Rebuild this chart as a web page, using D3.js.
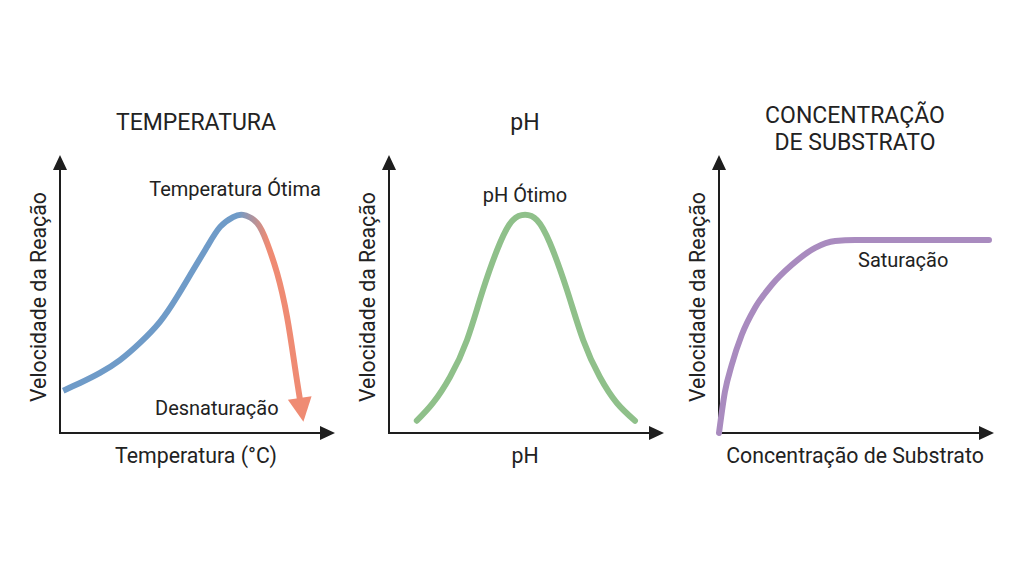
<!DOCTYPE html>
<html><head><meta charset="utf-8">
<script src="https://cdn.jsdelivr.net/npm/d3@7"></script>
<style>
html,body{margin:0;padding:0;background:#fff;}
text{font-family:Roboto,"Noto Sans",sans-serif;fill:#222;}
</style></head>
<body>
<svg id="c" width="1024" height="572"></svg>
<script>
// ---- data (arbitrary units 0..100) ----
const tempX = [1.2, 7.4, 14.8, 22.2, 29.6, 37.0, 43.3, 49.3, 54.4, 59.3, 64.1, 67.8, 73.0, 76.7, 80.4, 84.1, 87.0, 88.9];
const tempY = [15.5, 18.3, 22.0, 26.7, 33.0, 40.7, 49.8, 59.7, 68.1, 75.5, 79.1, 79.9, 76.9, 69.6, 58.6, 42.5, 24.2, 12.1];
const phX = [10.3, 16.3, 22.6, 28.9, 34.8, 41.1, 45.9, 50.4, 54.8, 59.6, 65.9, 71.9, 78.1, 84.4, 91.1];
const phY = [4.5, 11.0, 20.5, 34.1, 52.4, 69.6, 78.0, 79.9, 78.0, 69.6, 52.4, 34.1, 20.5, 11.0, 4.5];
const subX = [0, 2.2, 4.7, 8.4, 13.3, 19.5, 26.9, 35.6, 43.0, 50.4, 100];
const subY = [0, 15.1, 24.9, 35.9, 45.8, 54.2, 61.5, 67.8, 70.3, 70.7, 70.7];

const titles = [["TEMPERATURA"], ["pH"], ["CONCENTRAÇÃO", "DE SUBSTRATO"]];
const xLabels = ["Temperatura (°C)", "pH", "Concentração de Substrato"];
const yLabel = "Velocidade da Reação";
const annotations = ["Temperatura Ótima", "pH Ótimo", "Saturação"];
const colors = ["#6f9bc8", "#8fc08a", "#a98bbf"];
const denatColor = "#ef8b73";

const svg = d3.select("#c");
const defs = svg.append("defs");

const panels = [
  {ax: 60, ay: 433, xs: tempX, ys: tempY, curve: d3.curveNatural,
   titleY: [130], ann: {x: 235, y: 196}},
  {ax: 389, ay: 433, xs: phX, ys: phY, curve: d3.curveNatural,
   titleY: [130], ann: {x: 525, y: 202}},
  {ax: 719, ay: 433, xs: subX, ys: subY, curve: d3.curveMonotoneX,
   titleY: [123, 150], ann: {x: 858, y: 267, anchor: "start"}}
];

function arrowHead(g, tipX, tipY, dir, size, w, fill) {
  const bx = tipX - dir[0]*size, by = tipY - dir[1]*size;
  const px = -dir[1], py = dir[0];
  g.append("path")
    .attr("d", `M${tipX},${tipY}L${bx+px*w/2},${by+py*w/2}L${bx-px*w/2},${by-py*w/2}Z`)
    .attr("fill", fill);
}

panels.forEach((p, i) => {
  const g = svg.append("g");
  const x = d3.scaleLinear().domain([0, 100]).range([p.ax, p.ax + 270]);
  const y = d3.scaleLinear().domain([0, 100]).range([p.ay, p.ay - 273]);
  const cx = p.ax + 136;

  // axes
  g.append("line").attr("x1", p.ax).attr("y1", p.ay).attr("x2", p.ax).attr("y2", 165)
    .attr("stroke", "#1e1e1e").attr("stroke-width", 2);
  g.append("line").attr("x1", p.ax - 1).attr("y1", p.ay).attr("x2", p.ax + 265).attr("y2", p.ay)
    .attr("stroke", "#1e1e1e").attr("stroke-width", 2);
  arrowHead(g, p.ax, 155, [0, -1], 15, 14, "#1e1e1e");
  arrowHead(g, p.ax + 275, p.ay, [1, 0], 15, 14, "#1e1e1e");

  // titles
  titles[i].forEach((t, k) => {
    g.append("text").attr("x", cx).attr("y", p.titleY[k]).attr("text-anchor", "middle")
      .attr("font-size", 23).text(t);
  });
  // axis labels
  g.append("text").attr("x", cx).attr("y", 463).attr("text-anchor", "middle")
    .attr("font-size", 21.3).text(xLabels[i]);
  g.append("text").attr("transform", `translate(${p.ax - 14},297) rotate(-90)`)
    .attr("text-anchor", "middle").attr("font-size", 21.3).text(yLabel);

  // curve
  const pts = p.xs.map((v, k) => [v, p.ys[k]]);
  const line = d3.line().x(d => x(d[0])).y(d => y(d[1])).curve(p.curve);
  let stroke = colors[i];
  if (i === 0) {
    const gr = defs.append("linearGradient").attr("id", "tg")
      .attr("gradientUnits", "userSpaceOnUse")
      .attr("x1", x(66)).attr("y1", 0).attr("x2", x(77)).attr("y2", 0);
    gr.append("stop").attr("offset", 0).attr("stop-color", colors[0]);
    gr.append("stop").attr("offset", 1).attr("stop-color", denatColor);
    stroke = "url(#tg)";
  }
  g.append("path").attr("d", line(pts)).attr("fill", "none")
    .attr("stroke", stroke).attr("stroke-width", 6).attr("stroke-linecap", i === 0 ? "butt" : "round");

  if (i === 0) {
    const a = pts[pts.length - 2], b = pts[pts.length - 1];
    const dx = x(b[0]) - x(a[0]), dy = y(b[1]) - y(a[1]);
    const L = Math.hypot(dx, dy);
    const dir = [dx / L, dy / L];
    arrowHead(g, x(b[0]) + dir[0]*22, y(b[1]) + dir[1]*22, dir, 24, 24, denatColor);
    g.append("text").attr("x", 155).attr("y", 415).attr("font-size", 20).text("Desnaturação");
  }

  // annotation
  g.append("text").attr("x", p.ann.x).attr("y", p.ann.y)
    .attr("text-anchor", p.ann.anchor || "middle").attr("font-size", 20).text(annotations[i]);
});
</script>
</body></html>
